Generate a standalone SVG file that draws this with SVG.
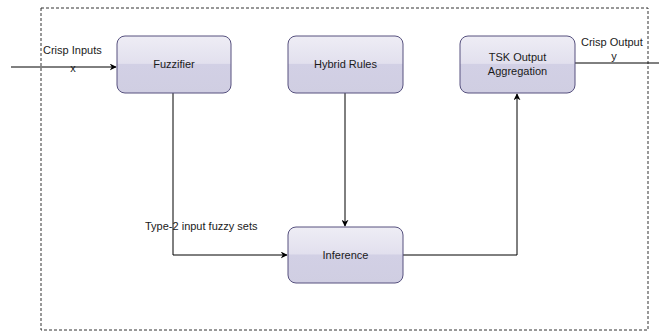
<svg xmlns="http://www.w3.org/2000/svg" width="659" height="333" viewBox="0 0 659 333">
<style>
.box{fill:url(#g);stroke:#56517e;stroke-width:1}
.t{font-family:"Liberation Sans",Arial,sans-serif;font-size:11px;fill:#1a1a1a;text-anchor:middle}
.l{font-family:"Liberation Sans",Arial,sans-serif;font-size:11px;fill:#1a1a1a}
.c{fill:none;stroke:#000;stroke-width:1}
</style>
<defs>
<linearGradient id="g" x1="0" y1="0" x2="0" y2="1">
<stop offset="0" stop-color="#eeedf5"/>
<stop offset="0.48" stop-color="#e2e0ee"/>
<stop offset="0.5" stop-color="#d2d0e5"/>
<stop offset="1" stop-color="#d0cee2"/>
</linearGradient>
<marker id="a" viewBox="0 0 10 10" refX="9" refY="5" markerWidth="7" markerHeight="7" orient="auto" markerUnits="userSpaceOnUse">
<path d="M0,0 L10,5 L0,10 L3,5 Z" fill="#000"/>
</marker>
</defs>
<rect x="41" y="8" width="607" height="322" fill="none" stroke="#333" stroke-dasharray="3,2"/>
<g id="connectors">
<path class="c" d="M11,67 H116" marker-end="url(#a)"/>
<path class="c" d="M173,93 V255 H287" marker-end="url(#a)"/>
<path class="c" d="M345,93 V226" marker-end="url(#a)"/>
<path class="c" d="M403,255 H517 V94" marker-end="url(#a)"/>
<path class="c" d="M575,63 H659"/>
<text class="l" x="43" y="54">Crisp Inputs</text>
<text class="t" x="73" y="72">x</text>
<text class="l" x="145" y="230">Type-2 input fuzzy sets</text>
<text class="l" x="581" y="46">Crisp Output</text>
<text class="t" x="614" y="60">y</text>
</g>
<g id="fuzzifier">
<rect class="box" x="117" y="36" width="114" height="57" rx="8"/>
<text class="t" x="174" y="68">Fuzzifier</text>
</g>
<g id="hybrid-rules">
<rect class="box" x="288" y="36" width="115" height="57" rx="8"/>
<text class="t" x="345.5" y="68">Hybrid Rules</text>
</g>
<g id="tsk">
<rect class="box" x="460" y="36" width="115" height="57" rx="8"/>
<text class="t" x="517.5" y="61">TSK Output</text>
<text class="t" x="517.5" y="75">Aggregation</text>
</g>
<g id="inference">
<rect class="box" x="288" y="227" width="115" height="56" rx="8"/>
<text class="t" x="345.5" y="259">Inference</text>
</g>
</svg>
